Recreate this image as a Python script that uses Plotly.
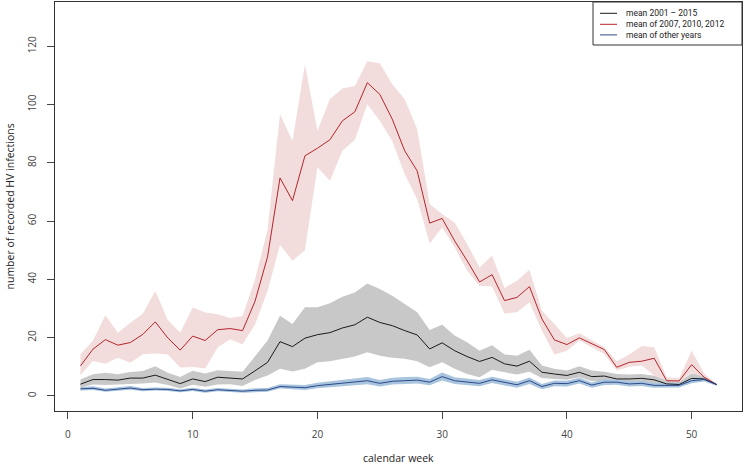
import plotly.graph_objects as go

weeks = list(range(1, 53))

red_mean = [10.3, 16.0, 19.3, 17.4, 18.3, 21.1, 25.4, 19.9, 15.7, 20.5, 19.0, 22.7, 23.1, 22.4, 32.5, 47.7,
            74.8, 67.0, 82.4, 85.0, 87.9, 94.4, 97.5, 107.5, 103.5, 95.0, 84.1, 77.2, 59.3, 60.9, 53.2, 46.4,
            39.1, 41.6, 32.7, 33.8, 37.5, 26.4, 19.2, 17.6, 19.9, 18.0, 15.9, 9.8, 11.5, 11.9, 12.9, 5.2,
            5.1, 10.7, 6.4, 3.9]
red_upper = [14.3, 18.9, 27.7, 21.7, 25.1, 28.2, 36.0, 26.0, 21.7, 30.3, 28.6, 28.0, 26.7, 27.4, 40.0, 57.0,
             96.7, 87.5, 113.8, 91.0, 101.8, 105.5, 106.4, 114.9, 114.2, 107.0, 101.8, 91.5, 65.8, 62.4, 59.5, 52.1,
             44.1, 48.1, 37.0, 39.5, 43.3, 29.2, 24.7, 19.9, 21.5, 19.2, 16.7, 11.9, 14.2, 17.1, 16.7, 6.4,
             6.0, 15.5, 7.8, 3.9]
red_lower = [7.1, 12.0, 11.0, 13.1, 11.4, 14.3, 14.5, 14.2, 9.7, 9.9, 9.4, 16.6, 19.4, 17.7, 24.5, 36.0,
             51.9, 46.4, 50.0, 78.6, 73.8, 84.1, 87.9, 100.1, 94.4, 87.5, 76.1, 67.5, 52.3, 57.8, 51.0, 43.0,
             37.8, 37.5, 28.3, 28.7, 32.1, 22.4, 14.2, 15.5, 19.0, 16.7, 14.4, 8.7, 10.0, 10.4, 7.0, 4.3,
             4.3, 8.1, 5.2, 3.6]

all_mean = [4.0, 5.6, 5.6, 5.4, 6.1, 6.1, 7.1, 5.6, 4.2, 5.8, 4.9, 6.4, 6.2, 5.8, 8.6, 11.5,
            18.6, 16.9, 19.8, 21.0, 21.7, 23.3, 24.4, 27.0, 25.2, 24.1, 22.4, 20.9, 16.1, 18.2, 15.5, 13.5,
            11.8, 13.2, 11.0, 10.2, 11.9, 8.1, 7.5, 7.0, 8.1, 6.6, 6.8, 5.8, 5.8, 6.0, 5.5, 4.1,
            3.9, 6.0, 5.8, 3.9]
all_upper = [5.6, 7.4, 7.9, 7.4, 8.2, 8.5, 10.2, 7.9, 6.5, 8.6, 7.7, 8.8, 8.5, 8.3, 13.6, 19.0,
             27.5, 24.7, 30.4, 30.4, 31.8, 34.0, 35.5, 38.6, 36.7, 34.4, 31.5, 28.7, 22.6, 24.4, 20.7, 18.4,
             15.5, 17.4, 14.2, 13.8, 15.8, 10.4, 9.3, 8.7, 10.2, 8.7, 8.3, 7.5, 7.3, 7.5, 6.9, 5.2,
             4.7, 7.8, 6.6, 3.9]
all_lower = [2.9, 3.9, 3.7, 3.9, 4.0, 4.2, 4.6, 3.7, 2.5, 3.8, 3.1, 3.9, 4.0, 3.4, 5.4, 7.0,
             9.3, 8.4, 9.3, 11.5, 11.9, 12.7, 13.5, 15.0, 13.8, 13.1, 12.7, 11.9, 9.8, 11.5, 9.3, 7.5,
             6.4, 9.0, 8.1, 7.3, 8.3, 6.1, 5.8, 5.5, 6.4, 5.0, 5.2, 4.3, 4.5, 4.7, 4.3, 3.6,
             3.6, 4.7, 5.2, 3.9]

other_mean = [2.4, 2.6, 1.9, 2.3, 2.7, 2.1, 2.3, 2.2, 1.7, 2.2, 1.6, 2.1, 1.8, 1.6, 1.9, 2.0,
              3.2, 3.0, 2.8, 3.5, 3.9, 4.3, 4.7, 5.2, 4.3, 5.0, 5.2, 5.4, 4.7, 6.6, 5.2, 4.7,
              4.3, 5.5, 4.7, 3.8, 5.2, 3.2, 4.3, 4.2, 5.2, 3.7, 4.7, 4.7, 4.1, 4.3, 3.6, 3.6,
              3.6, 5.2, 5.6, 3.9]
other_upper = [3.0, 3.3, 2.5, 2.9, 3.4, 2.7, 2.9, 2.8, 2.3, 2.8, 2.2, 2.7, 2.4, 2.2, 2.6, 2.7,
               4.0, 3.9, 3.7, 4.5, 5.0, 5.4, 5.9, 6.5, 5.4, 6.2, 6.5, 6.6, 5.8, 8.0, 6.4, 5.8,
               5.4, 6.6, 5.8, 4.8, 6.3, 4.1, 5.3, 5.2, 6.2, 4.6, 5.7, 5.6, 5.0, 5.2, 4.4, 4.3,
               4.3, 6.1, 6.3, 4.2]
other_lower = [1.8, 2.0, 1.4, 1.8, 2.1, 1.6, 1.8, 1.7, 1.2, 1.7, 1.1, 1.6, 1.3, 1.1, 1.3, 1.4,
               2.5, 2.2, 2.0, 2.6, 2.9, 3.3, 3.6, 4.0, 3.2, 3.9, 4.0, 4.2, 3.6, 5.3, 4.1, 3.6,
               3.3, 4.4, 3.6, 2.8, 4.1, 2.3, 3.3, 3.2, 4.2, 2.8, 3.7, 3.8, 3.2, 3.4, 2.8, 2.9,
               2.9, 4.3, 4.9, 3.5]

x_ticks = [0, 10, 20, 30, 40, 50]
y_ticks = [0, 20, 40, 60, 80, 100, 120]

legend_labels = ["mean 2001 \u2013 2015", "mean of 2007, 2010, 2012", "mean of other years"]
x_title = "calendar week"
y_title = "number of recorded HV infections"

RED = "#b5262c"
RED_BAND = "#f2dcdc"
BLACK = "#1a1a1a"
GRAY_BAND = "#c8c8c8"
BLUE = "#2d4a8c"
BLUE_BAND = "#a9c4dd"
FONT = "Open Sans"
LEG_FONT = "Roboto"

fig = go.Figure()


def band(lower, upper, color):
    fig.add_trace(go.Scatter(x=weeks + weeks[::-1], y=upper + lower[::-1], fill="toself",
                             fillcolor=color, line=dict(width=0), mode="lines",
                             hoverinfo="skip", showlegend=False))


band(red_lower, red_upper, RED_BAND)
band(all_lower, all_upper, GRAY_BAND)
band(other_lower, other_upper, BLUE_BAND)

fig.add_trace(go.Scatter(x=weeks, y=red_mean, mode="lines", line=dict(color=RED, width=1), showlegend=False))
fig.add_trace(go.Scatter(x=weeks, y=all_mean, mode="lines", line=dict(color=BLACK, width=1), showlegend=False))
fig.add_trace(go.Scatter(x=weeks, y=other_mean, mode="lines", line=dict(color=BLUE, width=1), showlegend=False))

W, H = 745, 465
pl, pr, pt, pb = 55, 742, 2, 411
pw, ph = pr - pl, pb - pt


def px(xp):
    return (xp - pl) / pw


def py(yp):
    return (pb - yp) / ph


# legend box (manual, R-style compact legend)
fig.add_shape(type="rect", xref="paper", yref="paper", x0=px(593), x1=1, y0=py(45), y1=1,
              line=dict(color="#333333", width=1), fillcolor="white", layer="above")
leg_colors = [BLACK, RED, BLUE]
leg_y = [13.3, 24.3, 34.9]
for lab, col, yy in zip(legend_labels, leg_colors, leg_y):
    fig.add_shape(type="line", xref="paper", yref="paper", x0=px(600), x1=px(617), y0=py(yy), y1=py(yy),
                  line=dict(color=col, width=1), layer="above")
    fig.add_annotation(xref="paper", yref="paper", x=px(625), y=py(yy), text=lab, showarrow=False,
                       xanchor="left", yanchor="middle", borderpad=0,
                       font=dict(family=LEG_FONT, size=8.5, color="#222222"))

fig.add_annotation(xref="paper", yref="paper", x=px((pl + pr) / 2), y=py(458), text=x_title, showarrow=False,
                   xanchor="center", yanchor="middle", font=dict(family=FONT, size=10.5, color="#222222"))
fig.add_annotation(xref="paper", yref="paper", x=px(9), y=py((pt + pb) / 2), text=y_title, showarrow=False,
                   textangle=-90, xanchor="center", yanchor="middle",
                   font=dict(family=FONT, size=10.5, color="#222222"))

axis_common = dict(showline=True, linecolor="#333333", linewidth=1, mirror=True, showgrid=False,
                   zeroline=False, ticks="outside", ticklen=7, tickcolor="#444444", tickwidth=1,
                   tickfont=dict(family=FONT, size=10, color="#444444"))

fig.update_layout(
    width=W, height=H,
    margin=dict(l=pl, r=W - pr, t=pt, b=H - pb, autoexpand=False),
    paper_bgcolor="white", plot_bgcolor="white",
    showlegend=False,
    xaxis=dict(range=[-1.04, 54.04], tickvals=x_ticks, ticktext=[str(v) for v in x_ticks],
               ticklabelstandoff=7, **axis_common),
    yaxis=dict(range=[-5.2, 135.2], tickvals=y_ticks, ticktext=[str(v) for v in y_ticks],
               tickangle=-90, ticklabelstandoff=7, **axis_common),
)

fig.write_html("out.html", config={"displayModeBar": False},
               post_script="document.body.style.margin='0';document.body.style.overflow='hidden';")
